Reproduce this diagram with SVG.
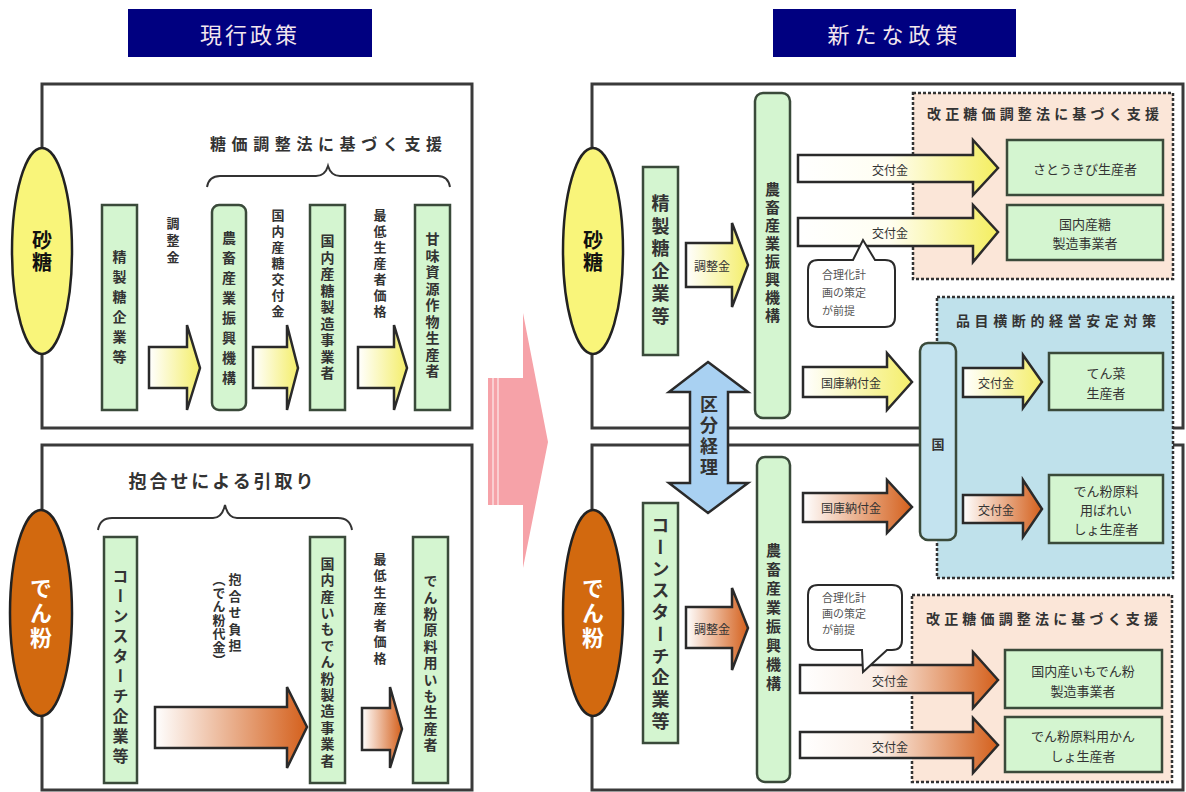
<svg xmlns="http://www.w3.org/2000/svg" width="1186" height="792" viewBox="0 0 1186 792">
<defs>
<linearGradient id="gy" x1="0" y1="0" x2="1" y2="0"><stop offset="0" stop-color="#ffffff"/><stop offset="1" stop-color="#f4ee6a"/></linearGradient>
<linearGradient id="gyl" x1="0" y1="0" x2="1" y2="0"><stop offset="0" stop-color="#ffffff"/><stop offset="0.45" stop-color="#fffef2"/><stop offset="1" stop-color="#f4ee60"/></linearGradient>
<linearGradient id="go" x1="0" y1="0" x2="1" y2="0"><stop offset="0" stop-color="#ffffff"/><stop offset="1" stop-color="#d4601c"/></linearGradient>
<linearGradient id="gol" x1="0" y1="0" x2="1" y2="0"><stop offset="0" stop-color="#ffffff"/><stop offset="0.4" stop-color="#fbeee6"/><stop offset="1" stop-color="#d4601c"/></linearGradient>
<style>
.t{font-family:"Noto Sans CJK JP","Noto Sans CJK SC",sans-serif;fill:#333;}
.b{font-weight:bold;}
.v{writing-mode:vertical-rl;text-anchor:middle;}
.vs{writing-mode:vertical-rl;text-anchor:start;}
.c{text-anchor:middle;dominant-baseline:central;}
.panel{fill:#ffffff;stroke:#3a3a3a;stroke-width:3;}
.gb{fill:#d4f5d0;stroke:#3a4a3a;stroke-width:2.5;}
.arr{stroke:#2a2a2a;stroke-width:2.5;stroke-linejoin:miter;}
.dash{stroke:#333;stroke-width:2.5;stroke-dasharray:3 2;}
.hdr{fill:#000080;}
.ht{font-family:"Noto Sans CJK JP",sans-serif;fill:#f2e6ee;font-size:22px;text-anchor:middle;dominant-baseline:central;}
.brace{fill:none;stroke:#333;stroke-width:2;}
.bt{fill:#555;}
</style>
</defs>
<rect width="1186" height="792" fill="#ffffff"/>

<!-- headers -->
<g id="hdr-current"><rect class="hdr" x="128" y="9" width="244" height="48"/><text class="ht" x="250" y="33" letter-spacing="3">現行政策</text></g>
<g id="hdr-new"><rect class="hdr" x="773" y="9" width="243" height="48"/><text class="ht" x="895" y="33" letter-spacing="5">新たな政策</text></g>

<!-- panels -->
<g id="panels">
<rect class="panel" x="42" y="84" width="430" height="344"/>
<rect class="panel" x="42" y="445" width="430" height="345"/>
<rect class="panel" x="592" y="84" width="591" height="344"/>
<rect class="panel" x="592" y="445" width="591" height="345"/>
</g>

<!-- ellipses -->
<g id="sugar-left"><ellipse cx="42" cy="251" rx="30" ry="103" fill="#f9f57a" stroke="#222" stroke-width="2.5"/><text class="t v b" x="42" y="252" font-size="20" letter-spacing="2" style="fill:#111">砂糖</text></g>
<g id="starch-left"><ellipse cx="41" cy="613" rx="31" ry="103" fill="#d2690f" stroke="#222" stroke-width="2.5"/><text class="t v b" x="41" y="614" font-size="22" letter-spacing="3" style="fill:#ffffff">でん粉</text></g>
<g id="sugar-right"><ellipse cx="593" cy="251" rx="30" ry="103" fill="#f9f57a" stroke="#222" stroke-width="2.5"/><text class="t v b" x="593" y="252" font-size="20" letter-spacing="2" style="fill:#111">砂糖</text></g>
<g id="starch-right"><ellipse cx="593" cy="613" rx="30" ry="103" fill="#d2690f" stroke="#222" stroke-width="2.5"/><text class="t v b" x="593" y="614" font-size="22" letter-spacing="3" style="fill:#ffffff">でん粉</text></g>

<!-- left top -->
<g id="lt-title"><text class="t c b" x="326" y="143" font-size="16" textLength="232" lengthAdjust="spacing">糖価調整法に基づく支援</text>
<path class="brace" d="M207,187 Q209,176 220,176 L316,176 Q325,176 328,166 Q331,176 340,176 L438,176 Q448,176 450,187"/></g>
<g id="lt-refiner"><rect class="gb" x="102" y="205" width="35" height="205"/><text class="t v b" x="119.5" y="310" font-size="14" letter-spacing="6">精製糖企業等</text></g>
<g id="lt-alic"><rect class="gb" x="212" y="205" width="34" height="205" rx="7"/><text class="t v b" x="229" y="311" font-size="14" letter-spacing="6">農畜産業振興機構</text></g>
<g id="lt-mfr"><rect class="gb" x="310" y="205" width="35" height="205"/><text class="t v b" x="327.5" y="308" font-size="14" letter-spacing="2.5">国内産糖製造事業者</text></g>
<g id="lt-grower"><rect class="gb" x="415" y="205" width="35" height="205"/><text class="t v b" x="432.5" y="306" font-size="14" letter-spacing="2.5">甘味資源作物生産者</text></g>
<g id="lt-labels">
<text class="t v b" x="173" y="242" font-size="13" letter-spacing="4">調整金</text>
<text class="t v b" x="278" y="265" font-size="13" letter-spacing="3">国内産糖交付金</text>
<text class="t v b" x="380" y="265" font-size="13" letter-spacing="3">最低生産者価格</text>
</g>

<!-- left bottom -->
<g id="lb-title"><text class="t c b" x="221" y="480" font-size="18" textLength="185" lengthAdjust="spacing">抱合せによる引取り</text>
<path class="brace" d="M98,530 Q100,518 112,518 L213,518 Q222,518 225,505 Q228,518 237,518 L338,518 Q350,518 352,530"/></g>
<g id="lb-corn"><rect class="gb" x="104" y="537" width="33" height="246"/><text class="t v b" x="120.5" y="668" font-size="16" letter-spacing="4">コーンスターチ企業等</text></g>
<g id="lb-mfr"><rect class="gb" x="310" y="537" width="35" height="246"/><text class="t v b" x="327.5" y="663" font-size="14" letter-spacing="2.4">国内産いもでん粉製造事業者</text></g>
<g id="lb-grower"><rect class="gb" x="413" y="537" width="35" height="246"/><text class="t v b" x="430.5" y="664" font-size="14" letter-spacing="2.4">でん粉原料用いも生産者</text></g>
<g id="lb-labels">
<text class="t vs b" x="235" y="573" font-size="13" letter-spacing="3.5">抱合せ負担</text>
<text class="t vs b" x="219" y="573" font-size="13" letter-spacing="0.5">（でん粉代金）</text>
<text class="t v b" x="380" y="610" font-size="13" letter-spacing="3.5">最低生産者価格</text>
</g>

<!-- pink transition arrow -->
<g id="transition">
<polygon points="488,378 523,378 523,313 548,442 523,568 523,505 488,505" fill="#f6a2a8"/>
<line x1="493" y1="378" x2="493" y2="505" stroke="#ffffff" stroke-width="1.2" opacity="0.8"/>
<line x1="498" y1="378" x2="498" y2="505" stroke="#ffffff" stroke-width="1.2" opacity="0.8"/>
</g>

<!-- right dashed boxes -->
<g id="rt-support"><rect class="dash" x="913" y="93" width="260" height="186" fill="#fbe6d8"/><text class="t c b" x="1043" y="113" font-size="14" textLength="232" lengthAdjust="spacing">改正糖価調整法に基づく支援</text></g>
<g id="rm-crosscut"><rect class="dash" x="937" y="297" width="236" height="281" fill="#bfe1eb"/><text class="t c b" x="1056" y="320" font-size="14" textLength="200" lengthAdjust="spacing">品目横断的経営安定対策</text></g>
<g id="rb-support"><rect class="dash" x="912" y="595" width="260" height="187" fill="#fbe6d8"/><text class="t c b" x="1042" y="618" font-size="14" textLength="232" lengthAdjust="spacing">改正糖価調整法に基づく支援</text></g>

<!-- right nodes -->
<g id="rt-refiner"><rect class="gb" x="643" y="167" width="35" height="188"/><text class="t v b" x="660.5" y="262" font-size="18" letter-spacing="4.5">精製糖企業等</text></g>
<g id="rt-alic"><rect class="gb" x="755" y="93" width="35" height="325" rx="8"/><text class="t v b" x="772.5" y="254" font-size="15" letter-spacing="3">農畜産業振興機構</text></g>
<g id="rb-corn"><rect class="gb" x="643" y="503" width="35" height="240"/><text class="t v b" x="660.5" y="625" font-size="18" letter-spacing="3.7">コーンスターチ企業等</text></g>
<g id="rb-alic"><rect class="gb" x="757" y="457" width="33" height="325" rx="8"/><text class="t v b" x="773.5" y="619" font-size="15" letter-spacing="4">農畜産業振興機構</text></g>
<g id="kuni"><rect x="920" y="343" width="36" height="197" rx="8" fill="#c3e3ef" stroke="#3a4a3a" stroke-width="2.5"/><text class="t c b" x="938" y="443" font-size="13">国</text></g>
<g id="n-cane"><rect class="gb" x="1007" y="140" width="156" height="55"/><text class="t c" x="1085" y="168" font-size="13">さとうきび生産者</text></g>
<g id="n-sugarmfr"><rect class="gb" x="1007" y="205" width="156" height="55"/><text class="t c" x="1085" y="223" font-size="13">国内産糖</text><text class="t c" x="1085" y="242" font-size="13">製造事業者</text></g>
<g id="n-beet"><rect class="gb" x="1049" y="353" width="114" height="57"/><text class="t c" x="1106" y="372" font-size="13">てん菜</text><text class="t c" x="1106" y="392" font-size="13">生産者</text></g>
<g id="n-potato"><rect class="gb" x="1049" y="475" width="114" height="68"/><text class="t c" x="1106" y="490" font-size="13">でん粉原料</text><text class="t c" x="1106" y="509" font-size="13">用ばれい</text><text class="t c" x="1106" y="528" font-size="13">しょ生産者</text></g>
<g id="n-starchmfr"><rect class="gb" x="1005" y="650" width="157" height="58"/><text class="t c" x="1083" y="670" font-size="13">国内産いもでん粉</text><text class="t c" x="1083" y="690" font-size="13">製造事業者</text></g>
<g id="n-sweetpotato"><rect class="gb" x="1005" y="717" width="157" height="55"/><text class="t c" x="1083" y="735" font-size="13">でん粉原料用かん</text><text class="t c" x="1083" y="755" font-size="13">しょ生産者</text></g>

<!-- connectors -->
<g id="connectors">
<polygon class="arr" fill="url(#gy)" points="149,347 187,347 187,325 200,368 187,410 187,388 149,388"/>
<polygon class="arr" fill="url(#gy)" points="253,347 287,347 287,325 298,368 287,410 287,388 253,388"/>
<polygon class="arr" fill="url(#gy)" points="358,347 394,347 394,325 407,368 394,410 394,388 358,388"/>
<polygon class="arr" fill="url(#go)" points="155,707 287,707 287,687 307,727 287,768 287,748 155,748"/>
<polygon class="arr" fill="url(#go)" points="362,708 390,708 390,687 402,729 390,768 390,750 362,750"/>

<polygon class="arr" fill="url(#gy)" points="686,243 732,243 732,223 748,265 732,307 732,287 686,287"/>
<text class="t c" x="712" y="265" font-size="12">調整金</text>
<polygon class="arr" fill="url(#gyl)" points="798,155 973,155 973,140 998,168 973,195 973,182 798,182"/>
<text class="t c" x="890" y="169" font-size="12">交付金</text>
<polygon class="arr" fill="url(#gyl)" points="798,218 973,218 973,205 998,232 973,262 973,246 798,246"/>
<text class="t c" x="890" y="232" font-size="12">交付金</text>
<polygon class="arr" fill="url(#gy)" points="803,367 887,367 887,353 912,382 887,410 887,397 803,397"/>
<text class="t c" x="851" y="382" font-size="12">国庫納付金</text>
<polygon class="arr" fill="url(#gy)" points="963,368 1023,368 1023,355 1042,382 1023,408 1023,397 963,397"/>
<text class="t c" x="996" y="382" font-size="12">交付金</text>
<polygon class="arr" fill="url(#go)" points="803,493 887,493 887,480 912,507 887,533 887,522 803,522"/>
<text class="t c" x="851" y="507" font-size="12">国庫納付金</text>
<polygon class="arr" fill="url(#go)" points="963,495 1023,495 1023,480 1042,509 1023,537 1023,523 963,523"/>
<text class="t c" x="996" y="509" font-size="12">交付金</text>
<polygon class="arr" fill="url(#go)" points="686,607 732,607 732,588 748,628 732,670 732,648 686,648"/>
<text class="t c" x="712" y="628" font-size="12">調整金</text>
<polygon class="arr" fill="url(#gol)" points="800,665 973,665 973,652 998,680 973,708 973,693 800,693"/>
<text class="t c" x="890" y="680" font-size="12">交付金</text>
<polygon class="arr" fill="url(#gol)" points="800,732 973,732 973,718 998,745 973,773 973,758 800,758"/>
<text class="t c" x="890" y="746" font-size="12">交付金</text>

<g id="kubun">
<polygon points="708,362 748,392 728,392 728,483 748,483 708,513 669,483 690,483 690,392 669,392" fill="#a9d1f2" stroke="#2a2a2a" stroke-width="2.5"/>
<text class="t v b" x="709" y="437" font-size="18" letter-spacing="3">区分経理</text>
</g>
</g>

<!-- speech bubbles -->
<g id="bubble-top">
<path d="M818,260 L853,260 L863,240 L875,260 L885,260 Q895,260 895,270 L895,317 Q895,327 885,327 L818,327 Q808,327 808,317 L808,270 Q808,260 818,260 Z" fill="#ffffff" stroke="#2a2a2a" stroke-width="2"/>
<text class="t bt" x="822" y="279" font-size="11">合理化計</text>
<text class="t bt" x="822" y="297" font-size="11">画の策定</text>
<text class="t bt" x="822" y="315" font-size="11">が前提</text>
</g>
<g id="bubble-bottom">
<path d="M818,585 L892,585 Q902,585 902,595 L902,640 Q902,650 892,650 L887,650 L863,672 L862,650 L818,650 Q808,650 808,640 L808,595 Q808,585 818,585 Z" fill="#ffffff" stroke="#2a2a2a" stroke-width="2"/>
<text class="t bt" x="822" y="602" font-size="11">合理化計</text>
<text class="t bt" x="822" y="618" font-size="11">画の策定</text>
<text class="t bt" x="822" y="634" font-size="11">が前提</text>
</g>
</svg>
